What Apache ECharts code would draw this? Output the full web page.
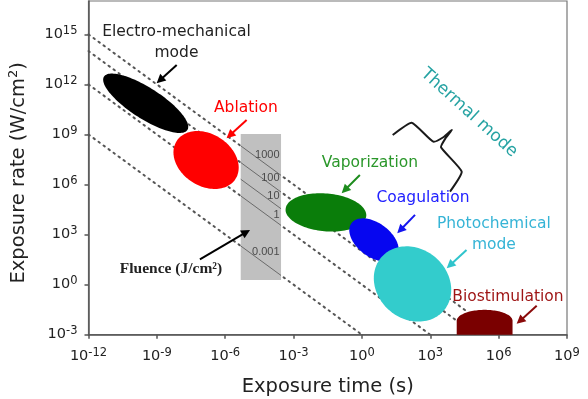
<!DOCTYPE html>
<html><head><meta charset="utf-8">
<script src="https://cdn.jsdelivr.net/npm/echarts@6/dist/echarts.min.js"></script>
<style>html,body{margin:0;padding:0;background:#fff}#c{width:588px;height:399px}</style>
</head><body><div id="c"></div>
<script>
// ---------------- DATA (all values are log10 of the physical quantity) ----------------
const xTickExponents = [-12, -9, -6, -3, 0, 3, 6, 9];     // exposure time 10^n s
const yTickExponents = [-3, 0, 3, 6, 9, 12, 15];          // exposure rate 10^n W/cm2
const xRangeLog = [-12, 9];
const yRangeLog = [-3, 17];

const regionNames = ['Electro-mechanical mode', 'Ablation', 'Vaporization', 'Coagulation', 'Photochemical mode'];
const regionTimeLog = [-9.49, -6.84, -1.58, 0.53, 2.22];
const regionRateLog = [10.87, 7.47, 4.33, 2.68, 0.04];
const regionMajorAxis = [[1.83, -1.60], [1.29, -1.14], [1.77, -0.21], [0.99, -1.00], [1.38, -1.58]];
const regionMinorAxis = [[-0.37, -0.78], [-0.62, -1.31], [-0.07, -1.13], [-0.44, -0.82], [-0.99, -1.61]];

const bioTimeLog = [4.16, 6.61];
const bioRateLog = [-2.17, -1.51];        // shoulder, top

const fluenceBoxTimeLog = [-5.32, -3.55];
const fluenceBoxRateLog = [0.28, 9.03];
const fluenceValues = [1000, 100, 10, 1, 0.001];
const fluenceLabels = ['1000', '100', '10', '1', '0.001'];
const dottedFluenceValues = [1000, 100, 1, 0.001];

// ---------------- STYLE / ANNOTATION CONFIG ----------------
const SANS = '"DejaVu Sans", sans-serif';
const regionColors = ['#000000', '#ff0000', '#0a7d0a', '#0606f0', '#33cccc'];
const bioColor = '#7a0000';
const fluenceLabelOffsetPx = [-20, -14, -13, -10, -23];
const annotations = [
  { text: 'Electro-mechanical\nmode', at: [-8.14, 14.51], color: '#222222', arrow: [[-8.13, 13.17], [-9.01, 12.07]], arrowColor: '#000' },
  { text: 'Ablation', at: [-5.09, 10.59], color: '#ff0000', arrow: [[-5.06, 9.87], [-5.94, 8.77]], arrowColor: '#ff0000' },
  { text: 'Vaporization', at: [0.35, 7.29], color: '#2a972a', arrow: [[-0.09, 6.57], [-0.89, 5.48]], arrowColor: '#1d8c1d' },
  { text: 'Coagulation', at: [2.68, 5.20], color: '#2222ff', arrow: [[2.33, 4.18], [1.55, 3.08]], arrowColor: '#1515f0' },
  { text: 'Photochemical\nmode', at: [5.79, 3.01], color: '#36b4d6', arrow: [[4.59, 2.08], [3.72, 0.98]], arrowColor: '#30c4cc' },
  { text: 'Biostimulation', at: [6.41, -0.72], color: '#9e1414', arrow: [[7.67, -1.27], [6.79, -2.35]], arrowColor: '#8a0a0a' },
  { text: 'Fluence (J/cm²)', at: [-8.38, 0.925], color: '#222222', serif: true, arrow: [[-7.11, 1.52], [-4.91, 3.28]], arrowColor: '#000' },
  { text: 'Thermal mode', at: [4.70, 10.30], color: '#26a3a3', rotate: -42, size: 17 }
];
const braceTip = [3.94, 9.27];
const braceShape = [[-59, 5], [-40, -7.3], [-18.4, 11.7], [-8, 7], [0, 0], [-6, 8], [-10.7, 17.3], [10, 41.7], [-1.7, 61.7]];

// ---------------- CHART ----------------
const chart = echarts.init(document.getElementById('c'), null, { renderer: 'canvas' });

function supLabel(v) { return '{b|10}{s|' + v + '}'; }
const labelRich = {
  b: { fontSize: 14.5, fontFamily: SANS, color: '#222' },
  s: { fontSize: 11.5, fontFamily: SANS, color: '#222', padding: [0, 0, 7, 0] }
};

const series = [];

// dotted iso-fluence lines
dottedFluenceValues.forEach(F => {
  const f = Math.log10(F);
  series.push({
    type: 'line', silent: true, symbol: 'none', z: 1, animation: false,
    data: [[xRangeLog[0], f - xRangeLog[0]], [f - yRangeLog[0], yRangeLog[0]]],
    lineStyle: { color: '#555', width: 2, type: [1.6, 4.6], cap: 'round' }
  });
});

// gray fluence box
series.push({
  type: 'custom', silent: true, z: 2, animation: false,
  data: [[fluenceBoxTimeLog[0], fluenceBoxRateLog[0], fluenceBoxTimeLog[1], fluenceBoxRateLog[1]]],
  encode: { x: [0, 2], y: [1, 3] },
  renderItem(params, api) {
    const p0 = api.coord([api.value(0), api.value(3)]);
    const p1 = api.coord([api.value(2), api.value(1)]);
    return { type: 'rect', shape: { x: p0[0], y: p0[1], width: p1[0] - p0[0], height: p1[1] - p0[1] }, style: { fill: '#c0c0c0' } };
  }
});

// iso-fluence lines inside the box
fluenceValues.forEach(F => {
  const f = Math.log10(F);
  series.push({
    type: 'line', silent: true, symbol: 'none', z: 3, animation: false,
    data: [[fluenceBoxTimeLog[0], f - fluenceBoxTimeLog[0]], [fluenceBoxTimeLog[1], f - fluenceBoxTimeLog[1]]],
    lineStyle: { color: '#6a6a6a', width: 1 }
  });
});

// fluence labels
series.push({
  type: 'custom', silent: true, z: 4, animation: false,
  data: fluenceValues.map(F => [fluenceBoxTimeLog[1], Math.log10(F) - fluenceBoxTimeLog[1]]),
  encode: { x: 0, y: 1 },
  renderItem(params, api) {
    const i = params.dataIndex;
    const p = api.coord([api.value(0), api.value(1)]);
    return { type: 'text', x: p[0] - 1.5, y: p[1] + fluenceLabelOffsetPx[i],
      style: { text: fluenceLabels[i], fill: '#4a4a4a', font: '11px "Liberation Sans", Arial, sans-serif', align: 'right', verticalAlign: 'middle' } };
  }
});

// regime ellipses
series.push({
  type: 'custom', silent: true, z: 5, animation: false,
  data: regionTimeLog.map((t, i) => [t, regionRateLog[i]]),
  encode: { x: 0, y: 1 },
  renderItem(params, api) {
    const i = params.dataIndex;
    const cx = api.value(0), cy = api.value(1);
    const u = regionMajorAxis[i], v = regionMinorAxis[i];
    const pts = [];
    for (let k = 0; k < 120; k++) {
      const a = k / 120 * Math.PI * 2;
      pts.push(api.coord([cx + u[0] * Math.cos(a) + v[0] * Math.sin(a), cy + u[1] * Math.cos(a) + v[1] * Math.sin(a)]));
    }
    return { type: 'polygon', shape: { points: pts }, style: { fill: regionColors[i] } };
  }
});

// biostimulation dome
series.push({
  type: 'custom', silent: true, z: 5, animation: false,
  data: [[bioTimeLog[0], yRangeLog[0], bioTimeLog[1], bioRateLog[1]]],
  encode: { x: [0, 2], y: [1, 3] },
  renderItem(params, api) {
    const x0 = bioTimeLog[0], x1 = bioTimeLog[1], ys = bioRateLog[0], yt = bioRateLog[1];
    const pts = [api.coord([x0, yRangeLog[0]])];
    const cx = (x0 + x1) / 2, hx = (x1 - x0) / 2, hy = yt - ys;
    for (let k = 0; k <= 60; k++) {
      const a = Math.PI - k / 60 * Math.PI;
      pts.push(api.coord([cx + hx * Math.cos(a), ys + hy * Math.sin(a)]));
    }
    pts.push(api.coord([x1, yRangeLog[0]]));
    return { type: 'polygon', shape: { points: pts }, style: { fill: bioColor } };
  }
});

// annotations: texts + arrows
series.push({
  type: 'custom', silent: true, z: 6, animation: false,
  data: annotations.map(a => a.at),
  encode: { x: 0, y: 1 },
  renderItem(params, api) {
    const a = annotations[params.dataIndex];
    const p = api.coord(a.at);
    const children = [];
    children.push({
      type: 'text', x: p[0], y: p[1], rotation: (a.rotate || 0) * Math.PI / 180,
      style: {
        text: a.text, fill: a.color, align: 'center', verticalAlign: 'middle', lineHeight: 21,
        font: a.serif ? 'bold 15.5px "Liberation Serif", "Times New Roman", serif' : ((a.size || 15.5) + 'px ' + SANS)
      }
    });
    if (a.arrow) {
      const s = api.coord(a.arrow[0]), e = api.coord(a.arrow[1]);
      const dx = e[0] - s[0], dy = e[1] - s[1], len = Math.hypot(dx, dy);
      const ux = dx / len, uy = dy / len, nx = -uy, ny = ux;
      const L = 9, W = 4.5;
      children.push({ type: 'line', shape: { x1: s[0], y1: s[1], x2: e[0] - ux * L * 0.7, y2: e[1] - uy * L * 0.7 },
        style: { stroke: a.arrowColor, lineWidth: 2 } });
      children.push({ type: 'polygon', shape: { points: [[e[0], e[1]], [e[0] - ux * L + nx * W, e[1] - uy * L + ny * W], [e[0] - ux * L - nx * W, e[1] - uy * L - ny * W]] },
        style: { fill: a.arrowColor } });
    }
    return { type: 'group', children };
  }
});

// curly brace for thermal mode
series.push({
  type: 'custom', silent: true, z: 6, animation: false,
  data: [braceTip],
  encode: { x: 0, y: 1 },
  renderItem(params, api) {
    const p = api.coord([api.value(0), api.value(1)]);
    return { type: 'polyline', shape: { points: braceShape.map(q => [p[0] + q[0], p[1] + q[1]]), smooth: 0.15 },
      style: { stroke: '#1a1a1a', lineWidth: 2, fill: null, lineJoin: 'round' } };
  }
});

chart.setOption({
  animation: false,
  backgroundColor: '#fff',
  grid: { left: 88.5, right: 21, top: 1, bottom: 64.3, show: true, borderColor: '#777', borderWidth: 1.2, outerBoundsMode: 'none' },
  xAxis: {
    type: 'value', min: xRangeLog[0], max: xRangeLog[1], interval: 3,
    name: 'Exposure time (s)', nameLocation: 'middle', nameGap: 42,
    nameTextStyle: { fontSize: 19.5, fontFamily: SANS, color: '#222' },
    axisLine: { onZero: false, lineStyle: { color: '#555', width: 1.5 } },
    axisTick: { show: true, length: 4, inside: false, lineStyle: { color: '#555', width: 1.5 }, customValues: xTickExponents },
    axisLabel: { margin: 12, formatter: supLabel, rich: labelRich, customValues: xTickExponents },
    splitLine: { show: false }
  },
  yAxis: {
    type: 'value', min: yRangeLog[0], max: yRangeLog[1], interval: 3,
    name: '{a|Exposure rate (W/cm}{s|2}{a|)}', nameLocation: 'middle', nameGap: 58, nameRotate: 90,
    nameTextStyle: { padding: [0, 10, 0, 0], rich: { a: { fontSize: 19.5, fontFamily: SANS, color: '#222' }, s: { fontSize: 13, fontFamily: SANS, color: '#222', padding: [0, 0, 10, 0] } } },
    axisLine: { onZero: false, lineStyle: { color: '#555', width: 1.5 } },
    axisTick: { show: true, length: 4, inside: false, lineStyle: { color: '#555', width: 1.5 }, customValues: yTickExponents },
    axisLabel: { margin: 11, formatter: supLabel, rich: labelRich, customValues: yTickExponents },
    splitLine: { show: false }
  },
  series
});
</script>
</body></html>
